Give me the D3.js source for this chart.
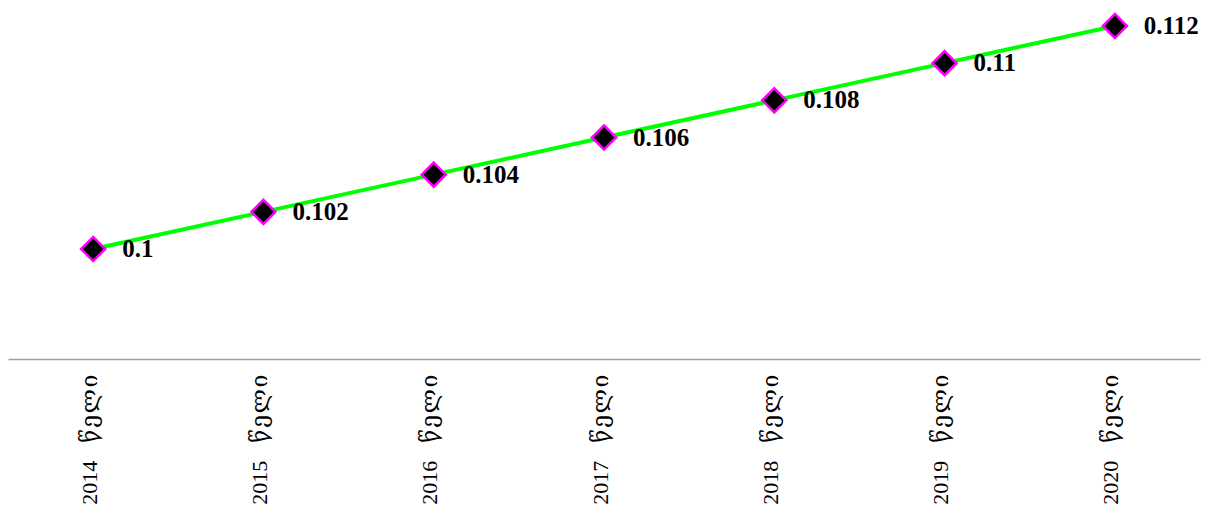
<!DOCTYPE html>
<html><head><meta charset="utf-8">
<script src="https://cdn.jsdelivr.net/npm/d3@7"></script>
<style>body{margin:0;background:#fff}svg{display:block}</style>
</head><body>
<script>
const categories = ["2014 წელი","2015 წელი","2016 წელი","2017 წელი","2018 წელი","2019 წელი","2020 წელი"];
const values = [0.1,0.102,0.104,0.106,0.108,0.11,0.112];
const valueLabels = ["0.1","0.102","0.104","0.106","0.108","0.11","0.112"];

const W=1209,H=508;
const svg=d3.select("body").append("svg").attr("width",W).attr("height",H);
const x=d3.scaleBand().domain(categories).range([8,1200]);
const y=d3.scaleLinear().domain([0.1,0.112]).range([249,26]);
const axisY=359;

const ax=svg.append("g").attr("transform",`translate(0,${axisY})`)
  .call(d3.axisBottom(x).tickSize(0).tickPadding(0));
ax.select(".domain").attr("stroke","#a0a0a0").attr("stroke-width",1.5);
ax.selectAll(".tick text").each(function(d){
  const t=d3.select(this);
  const parts=d.split(" ");
  t.text(null)
   .attr("font-family","'Liberation Serif','DejaVu Serif',serif")
   .attr("fill","#000")
   .attr("text-anchor","end")
   .attr("dy","0.35em")
   .attr("transform","translate(0,14) rotate(-90)")
   .attr("x",0).attr("y",0);
  t.append("tspan").attr("font-size",22).text(parts[0]);
  t.append("tspan").attr("font-size",23).attr("letter-spacing",1.5).attr("dx",18).text(parts[1]);
});

const cx=d=>x(d)+x.bandwidth()/2;
svg.append("path").datum(values)
  .attr("fill","none").attr("stroke","#00ff00").attr("stroke-width",4)
  .attr("d",d3.line().x((d,i)=>cx(categories[i])).y(d=>y(d)));

svg.selectAll(".m").data(values).enter().append("path")
  .attr("d",d3.symbol().type(d3.symbolDiamond2).size(370))
  .attr("transform",(d,i)=>`translate(${cx(categories[i])},${y(d)})`)
  .attr("fill","#000").attr("stroke","#ff00ff").attr("stroke-width",2.5);

svg.selectAll(".l").data(values).enter().append("text")
  .attr("x",(d,i)=>cx(categories[i])+29).attr("y",d=>y(d)+8)
  .attr("font-family","'Liberation Serif','DejaVu Serif',serif")
  .attr("font-weight","bold").attr("font-size",25).attr("fill","#000")
  .text((d,i)=>valueLabels[i]);
</script>
</body></html>
